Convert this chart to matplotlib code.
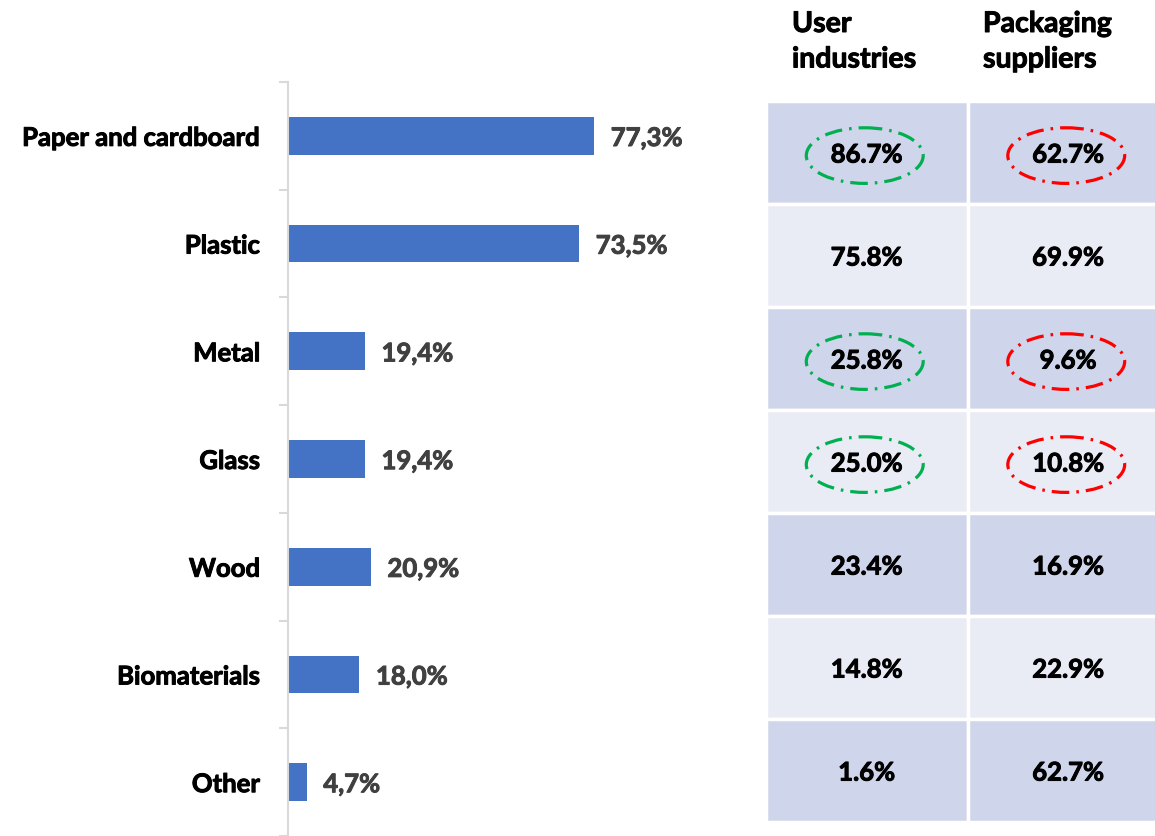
import matplotlib
matplotlib.use("Agg")
import matplotlib.pyplot as plt
import matplotlib.patheffects as pe
from matplotlib.patches import Rectangle, Ellipse

plt.rcParams['font.family'] = ['Lato', 'DejaVu Sans']

# Packaging materials used (share of respondents)
materials = ["Paper and cardboard", "Plastic", "Metal", "Glass", "Wood", "Biomaterials", "Other"]
overall = [77.3, 73.5, 19.4, 19.4, 20.9, 18.0, 4.7]

# Breakdown by respondent group
col_headers = ["User\nindustries", "Packaging\nsuppliers"]
user_industries = [86.7, 75.8, 25.8, 25.0, 23.4, 14.8, 1.6]
packaging_suppliers = [62.7, 69.9, 9.6, 10.8, 16.9, 22.9, 62.7]
highlight_rows = [0, 2, 3]

W, H = 1155, 836
fig = plt.figure(figsize=(W / 100, H / 100), dpi=100)


def heavy(color):
    # slightly thicker glyphs for a heavier bold look
    return [pe.withStroke(linewidth=0.7, foreground=color)]


# ---- bar chart ----
ax = fig.add_axes([288 / W, 0.0, 396 / W, 754 / H])
y = list(range(len(materials)))
ax.barh(y, overall, height=0.35, color="#4472C4")
ax.set_xlim(0, 100)
ax.set_ylim(len(materials) - 0.5, -0.5)
for yi, v in zip(y, overall):
    ax.annotate(f"{v:.1f}".replace(".", ",") + "%", (v, yi + 0.02), xytext=(12, 0),
                textcoords="offset points", va="center", ha="left",
                fontsize=18.5, fontweight="bold", color="#404040",
                path_effects=heavy("#404040"))
ax.set_yticks(y)
ax.set_yticklabels(materials, fontsize=18.5, fontweight="bold", color="black")
for lbl in ax.get_yticklabels():
    lbl.set_path_effects(heavy("black"))
ax.set_yticks([i - 0.5 for i in range(len(materials) + 1)], minor=True)
ax.tick_params(axis="y", which="major", length=0, pad=20)
ax.tick_params(axis="y", which="minor", length=6.5, width=1.5, color="#d9d9d9")
ax.set_xticks([])
for s in ["top", "right", "bottom"]:
    ax.spines[s].set_visible(False)
ax.spines["left"].set_color("#d9d9d9")
ax.spines["left"].set_linewidth(1.5)

# ---- table ----
tx0, ty_top, ty_bot, cw = 766, 101, 822, 201.5
tax = fig.add_axes([tx0 / W, (H - ty_bot) / H, 2 * cw / W, (ty_bot - ty_top) / H])
tax.set_xlim(0, 2)
tax.set_ylim(len(materials), 0)
tax.axis("off")
columns = [user_industries, packaging_suppliers]
ring_colors = ["#00B050", "#FF0000"]
for i in range(len(materials)):
    fill = "#CFD5EA" if i % 2 == 0 else "#E9EBF5"
    for j, col in enumerate(columns):
        tax.add_patch(Rectangle((j, i), 1, 1, facecolor=fill, edgecolor="white",
                                linewidth=2.5, clip_on=False))
        tax.text(j + 0.5, i + 0.52, f"{col[i]:.1f}%", ha="center", va="center",
                 fontsize=18.5, fontweight="bold", color="black",
                 path_effects=heavy("black"))
        if i in highlight_rows:
            tax.add_patch(Ellipse((j + 0.49, i + 0.53), 0.58, 0.54, fill=False,
                                  edgecolor=ring_colors[j], linewidth=2.3,
                                  linestyle=(0, (5.5, 2.2, 0.8, 2.2)), clip_on=False))

# column headers
for j, hdr in enumerate(col_headers):
    fig.text((792 + j * 191) / W, 1 - 11 / H, hdr, ha="left", va="top",
             fontsize=20.5, fontweight="bold", color="black", linespacing=1.45,
             path_effects=heavy("black"))

fig.savefig("out.png", dpi=100)
